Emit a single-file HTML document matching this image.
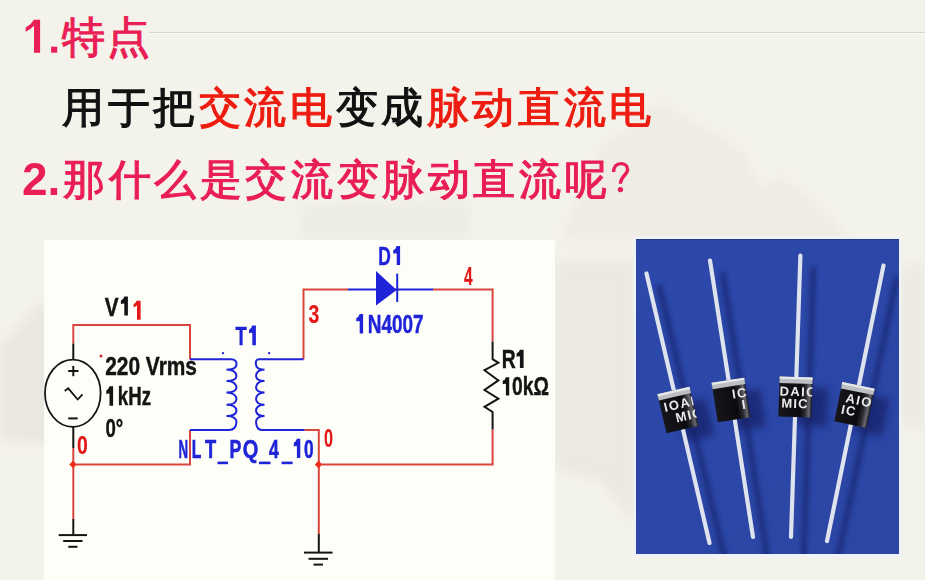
<!DOCTYPE html>
<html><head><meta charset="utf-8">
<style>
html,body{margin:0;padding:0;}
body{width:925px;height:580px;overflow:hidden;position:relative;background:#f4f3eb;font-family:"Liberation Sans",sans-serif;}
.bg{position:absolute;left:0;top:0;width:925px;height:580px;}
.t{position:absolute;white-space:nowrap;font-size:46px;line-height:46px;}
.pink{color:#e91e55;text-shadow:0 0 2px rgba(255,235,240,0.9);}
.red{color:#ee1c10;}
.blk{color:#111;}
.num{font-weight:bold;}
.cj{position:absolute;white-space:nowrap;font-size:42px;line-height:46px;letter-spacing:3.6px;-webkit-text-stroke:1.1px currentColor;}
#panel{position:absolute;left:44px;top:240px;width:511px;height:340px;background:#fefef9;}
#photo{position:absolute;left:636px;top:239px;width:263px;height:315px;background:#2c47ad;box-shadow:0 0 0 2px #eef3fb;}
svg{position:absolute;left:0;top:0;}
</style></head>
<body>
<svg class="bg" width="925" height="580" viewBox="0 0 925 580">
  <defs><filter id="bgb" x="-30%" y="-30%" width="160%" height="160%"><feGaussianBlur stdDeviation="6"/></filter></defs>
  <g filter="url(#bgb)" fill="#e2e0d8">
    <polygon points="0,345 44,300 60,320 60,445 0,440" opacity="0.6"/>
    <polygon points="555,260 636,260 636,525 600,480 555,470" opacity="0.5"/>
    <polygon points="899,270 925,260 925,430 899,425" opacity="0.45"/>
    <polygon points="560,240 600,150 660,102 743,150 760,190 780,175 840,225 850,240" opacity="0.35"/>
    <polygon points="300,205 470,200 470,240 300,240" opacity="0.3"/>
  </g>
  <line x1="150" y1="32.5" x2="925" y2="32.5" stroke="#d8d6cc" stroke-width="1"/>
  <line x1="150" y1="33.5" x2="925" y2="33.5" stroke="#fbfbf6" stroke-width="1"/>
</svg>

<svg width="70" height="70" viewBox="0 0 70 70" style="left:0;top:0;">
  <path d="M34,19.7 L40.1,19.7 L40.1,52.7 L34,52.7 L34,25.8 Q30.5,29.6 25.7,31.7 L25.7,27.6 Q31.2,24.6 34,19.7 Z" fill="#e91e55"/>
  <rect x="51.1" y="46.7" width="6.1" height="6" fill="#e91e55"/>
</svg>
<div class="cj pink" style="left:62px;top:14px;font-size:43px;letter-spacing:1.8px;">特点</div>
<div class="cj blk" style="left:62px;top:85px;">用于把<span class="red">交流电</span>变成<span class="red">脉动直流电</span></div>
<div class="t pink num" style="left:22px;top:156px;">2.</div>
<div class="cj pink" style="left:63px;top:157px;">那什么是交流变脉动直流呢</div>
<svg width="925" height="220" viewBox="0 0 925 220" style="left:0;top:0;"><path d="M613.6,172 C613.6,166.5 617,163.6 620.8,163.6 C624.8,163.6 627.6,166.2 627.6,169.6 C627.6,174.5 620.6,176.5 620.4,183.8" fill="none" stroke="#e91e55" stroke-width="3.4"/><circle cx="620.4" cy="189.6" r="2.7" fill="#e91e55"/></svg>

<div id="panel"></div>

<svg width="925" height="580" viewBox="0 0 925 580" style="font-family:'Liberation Sans',sans-serif;font-weight:bold;">
  <g stroke="#d8463e" stroke-width="2" fill="none">
    <polyline points="73.3,343.5 73.3,325 190,325 190,359.3"/>
    <polyline points="73.3,448 73.3,519"/>
    <polyline points="73.3,464.5 190,464.5 190,430"/>
    <polyline points="304.5,430 318.8,430 318.8,534"/>
    <polyline points="318.8,464.5 492.6,464.5 492.6,429.6"/>
    <polyline points="492.6,341.6 492.6,289.5 433,289.5"/>
    <polyline points="348,289.5 303.5,289.5 303.5,359.3"/>
  </g>
  <g stroke="#141414" stroke-width="2" fill="none">
    <line x1="73.3" y1="343.5" x2="73.3" y2="359.3"/>
    <line x1="73.3" y1="427" x2="73.3" y2="448"/>
    <line x1="73.3" y1="519" x2="73.3" y2="535"/>
    <line x1="58.7" y1="535.1" x2="87" y2="535.1"/>
    <line x1="63.2" y1="541" x2="82.5" y2="541"/>
    <line x1="68.3" y1="546.8" x2="77.5" y2="546.8"/>
    <line x1="318.8" y1="534" x2="318.8" y2="552.6"/>
    <line x1="304" y1="552.6" x2="332.6" y2="552.6"/>
    <line x1="308.5" y1="558.8" x2="328" y2="558.8"/>
    <line x1="313.5" y1="564.6" x2="323" y2="564.6"/>
    <polyline points="492.6,341.6 492.6,359.2 498.4,362.8 484.5,370.2 498.4,380.4 484.5,390 498.4,398.7 484.5,406.8 492.6,412 492.6,429.6"/>
    <ellipse cx="72.8" cy="393.2" rx="27.8" ry="33.6" stroke-width="1.8"/>
    <line x1="68.2" y1="371" x2="78.5" y2="371"/>
    <line x1="73.3" y1="365.9" x2="73.3" y2="376.2"/>
    <line x1="68.2" y1="418.4" x2="77.7" y2="418.4"/>
    <polyline points="64.7,391 68.2,388.3 77.7,399.5 82.5,394.3" stroke-width="1.8"/>
  </g>
  <g stroke="#1f24d8" stroke-width="2" fill="none">
    <line x1="190" y1="359.3" x2="231" y2="359.3"/>
    <line x1="190" y1="430" x2="229" y2="430"/>
    <line x1="259" y1="359.3" x2="303.5" y2="359.3"/>
    <line x1="262" y1="430" x2="304.5" y2="430"/>
    <path d="M231,359.3 Q237,359.5 236.5,364.7 Q236,370 226.5,369.6 Q236,370 236.5,376 Q236,381 226.5,381 Q236,381 236.5,387.6 Q236,392.5 226.5,392.5 Q236,393 236.5,399 Q236,404.8 226.5,404.8 Q236,405 236.5,410.6 Q236,416 226.5,416 Q236,416 236.5,422 Q236,430 229,430"/>
    <path d="M259,359.3 Q255,359.5 256,364.7 Q256.5,370 264.5,369.6 Q256.5,370 256,376 Q256.5,381 264.5,381 Q256.5,381 256,387.6 Q256.5,392.5 264.5,392.5 Q256.5,393 256,399 Q256.5,404.8 264.5,404.8 Q256.5,405 256,410.6 Q256.5,416 264.5,416 Q256.5,416 256,422 Q256.5,430 262,430"/>
    <line x1="348" y1="289.5" x2="433" y2="289.5"/>
    <line x1="397.2" y1="273.6" x2="397.2" y2="302"/>
  </g>
  <polygon points="376,271 396.7,290 376,305.5" fill="#1f24d8"/>
  <circle cx="223" cy="353.1" r="1.2" fill="#1f24d8"/>
  <circle cx="269.1" cy="353.1" r="1.2" fill="#1f24d8"/>
  <circle cx="101" cy="355.9" r="1.5" fill="#c03030"/>
  <polygon points="69.3,464.5 73.3,460.5 76.3,464.5 73.3,468.5" fill="#ee2a1a"/>
  <polygon points="314.8,464.5 318.8,460.5 321.8,464.5 318.8,468.5" fill="#ee2a1a"/>
  <g font-size="26" id="labels">
<text id="L_v" x="104.80" y="315.6" fill="#141414" stroke="#141414" stroke-width="0.45" textLength="13.80" lengthAdjust="spacingAndGlyphs">V</text>
<text id="L_220" x="105.20" y="374.5" fill="#141414" stroke="#141414" stroke-width="0.45" textLength="91.80" lengthAdjust="spacingAndGlyphs">220 Vrms</text>
<text id="L_khz" x="117.80" y="404.7" fill="#141414" stroke="#141414" stroke-width="0.45" textLength="33.20" lengthAdjust="spacingAndGlyphs">kHz</text>
<text id="L_deg" x="105.40" y="436.7" fill="#141414" stroke="#141414" stroke-width="0.45" textLength="17.80" lengthAdjust="spacingAndGlyphs">0°</text>
<text id="L_r0a" x="77.00" y="454.1" fill="#e41616" stroke="#e41616" stroke-width="0.15" textLength="10.80" lengthAdjust="spacingAndGlyphs">0</text>
<text id="L_t" x="235.60" y="345.1" fill="#1f24d8" stroke="#1f24d8" stroke-width="0.45" textLength="11.20" lengthAdjust="spacingAndGlyphs">T</text>
<text id="L_r0b" x="324.00" y="447" fill="#e41616" stroke="#e41616" stroke-width="0.15" textLength="9.00" lengthAdjust="spacingAndGlyphs">0</text>
<text id="L_r3" x="308.40" y="322.9" fill="#e41616" stroke="#e41616" stroke-width="0.15" textLength="10.80" lengthAdjust="spacingAndGlyphs">3</text>
<text id="L_d" x="378.20" y="265" fill="#1f24d8" stroke="#1f24d8" stroke-width="0.45" textLength="12.60" lengthAdjust="spacingAndGlyphs">D</text>
<text id="L_n4007" x="367.80" y="333.1" fill="#1f24d8" stroke="#1f24d8" stroke-width="0.45" textLength="55.80" lengthAdjust="spacingAndGlyphs">N4007</text>
<text id="L_r4" x="464.00" y="284.5" fill="#e41616" stroke="#e41616" stroke-width="0.15" textLength="8.60" lengthAdjust="spacingAndGlyphs">4</text>
<text id="L_r" x="501.80" y="368" fill="#141414" stroke="#141414" stroke-width="0.45" textLength="14.00" lengthAdjust="spacingAndGlyphs">R</text>
<text id="L_k0" x="512.00" y="395" fill="#141414" stroke="#141414" stroke-width="0.45" textLength="37.00" lengthAdjust="spacingAndGlyphs">0kΩ</text>
<text id="L_nN" x="178.60" y="458.2" fill="#1f24d8" stroke="#1f24d8" stroke-width="0.6" textLength="9.60" lengthAdjust="spacingAndGlyphs">N</text>
<text id="L_nL" x="191.80" y="458.2" fill="#1f24d8" stroke="#1f24d8" stroke-width="0.6" textLength="9.60" lengthAdjust="spacingAndGlyphs">L</text>
<text id="L_nT" x="205.00" y="458.2" fill="#1f24d8" stroke="#1f24d8" stroke-width="0.6" textLength="11.20" lengthAdjust="spacingAndGlyphs">T</text>
<text id="L_nP" x="229.60" y="458.2" fill="#1f24d8" stroke="#1f24d8" stroke-width="0.6" textLength="11.80" lengthAdjust="spacingAndGlyphs">P</text>
<text id="L_nQ" x="242.80" y="458.2" fill="#1f24d8" stroke="#1f24d8" stroke-width="0.6" textLength="15.60" lengthAdjust="spacingAndGlyphs">Q</text>
<text id="L_n4" x="269.00" y="458.2" fill="#1f24d8" stroke="#1f24d8" stroke-width="0.6" textLength="9.80" lengthAdjust="spacingAndGlyphs">4</text>
<text id="L_n0" x="304.00" y="458.2" fill="#1f24d8" stroke="#1f24d8" stroke-width="0.6" textLength="9.60" lengthAdjust="spacingAndGlyphs">0</text>
<path d="M124.3,296.4 L127.9,296.4 L127.9,315.5 L124.3,315.5 L124.3,303.7 Q123.1,303.3 120.9,304.0 L120.9,300.5 Q123.4,299.6 124.3,296.4 Z" fill="#141414"/>
<path d="M252.3,325.6 L255.9,325.6 L255.9,345.2 L252.3,345.2 L252.3,333.0 Q251.1,332.6 249.1,333.3 L249.1,329.8 Q251.4,328.8 252.3,325.6 Z" fill="#1f24d8"/>
<path d="M396.7,245.9 L400.1,245.9 L400.1,264.9 L396.7,264.9 L396.7,253.5 Q395.5,253.1 393.3,253.8 L393.3,250.3 Q395.8,249.1 396.7,245.9 Z" fill="#1f24d8"/>
<path d="M519.9,349.7 L523.6,349.7 L523.6,367.9 L519.9,367.9 L519.9,356.4 Q518.7,356.0 516.6,356.7 L516.6,353.2 Q519.0,352.9 519.9,349.7 Z" fill="#141414"/>
<path d="M505.9,377.2 L509.2,377.2 L509.2,395.4 L505.9,395.4 L505.9,383.9 Q504.7,383.5 502.7,384.2 L502.7,380.7 Q505.0,380.4 505.9,377.2 Z" fill="#141414"/>
<path d="M109.5,386.3 L113.1,386.3 L113.1,405.7 L109.5,405.7 L109.5,393.7 Q108.3,393.3 106.3,394.0 L106.3,390.5 Q108.6,389.5 109.5,386.3 Z" fill="#141414"/>
<path d="M359.7,314.1 L363.1,314.1 L363.1,333.4 L359.7,333.4 L359.7,321.2 Q358.5,320.8 356.3,321.5 L356.3,318.0 Q358.8,317.3 359.7,314.1 Z" fill="#1f24d8"/>
<path d="M296.9,438.8 L300.3,438.8 L300.3,457.9 L296.9,457.9 L296.9,446.2 Q295.7,445.8 293.8,446.5 L293.8,443.0 Q296.0,442.0 296.9,438.8 Z" fill="#1f24d8"/>
<path id="l_r1a" d="M136.6,300.7 L140.6,300.7 L140.6,319.7 L137,319.7 L137,305.3 Q135.5,306.6 133.6,307.4 L133.6,304.2 Q135.9,302.8 136.6,300.7 Z" fill="#e41616"/>
<g fill="#1f24d8"><rect x="217.5" y="461.6" width="10.5" height="2.6"/><rect x="259" y="461.6" width="11.5" height="2.6"/><rect x="281.6" y="461.6" width="11" height="2.6"/></g>
</g>
</svg>
<svg width="925" height="580" viewBox="0 0 925 580" style="font-family:'Liberation Sans',sans-serif;font-weight:bold;">
<defs>
 <filter id="blr" x="-50%" y="-20%" width="200%" height="140%"><feGaussianBlur stdDeviation="2"/></filter>
 <filter id="blr2" x="-50%" y="-50%" width="200%" height="200%"><feGaussianBlur stdDeviation="3.5"/></filter>
 <linearGradient id="pbg" x1="0" y1="0" x2="1" y2="1"><stop offset="0" stop-color="#2c48ab"/><stop offset="1" stop-color="#2b46a3"/></linearGradient>
 <linearGradient id="body" x1="0" y1="0" x2="1" y2="0"><stop offset="0" stop-color="#17171b"/><stop offset="0.65" stop-color="#0b0b0f"/><stop offset="0.8" stop-color="#2a2b30"/><stop offset="0.92" stop-color="#6a6b72"/><stop offset="1" stop-color="#15151a"/></linearGradient>
 <clipPath id="bclip"><rect x="-16.5" y="-20" width="33" height="40"/></clipPath>
 <clipPath id="pclip"><rect x="636" y="239" width="263" height="315"/></clipPath>
</defs>
<rect x="633.5" y="236.5" width="268" height="320" fill="#eef2fa"/>
<rect x="636" y="239" width="263" height="315" fill="url(#pbg)"/>
<line x1="636" y1="239.5" x2="899" y2="239.5" stroke="#26398c" stroke-width="1"/>
<g clip-path="url(#pclip)">
<line x1="659.5" y1="287.5" x2="725.5" y2="562.0" stroke="#1b2a78" stroke-width="6" stroke-linecap="round" opacity="0.8" filter="url(#blr)"/>
<g transform="translate(695.0 419.0) rotate(-13.2)"><rect x="-15" y="-18" width="30" height="38" fill="#17236a" opacity="0.75" filter="url(#blr2)"/></g>
<line x1="723.0" y1="274.5" x2="768.0" y2="562.0" stroke="#1b2a78" stroke-width="6" stroke-linecap="round" opacity="0.8" filter="url(#blr)"/>
<g transform="translate(748.0 409.0) rotate(-9)"><rect x="-15" y="-18" width="30" height="38" fill="#17236a" opacity="0.75" filter="url(#blr2)"/></g>
<line x1="813.4" y1="269.5" x2="803.5" y2="562.0" stroke="#1b2a78" stroke-width="6" stroke-linecap="round" opacity="0.8" filter="url(#blr)"/>
<g transform="translate(812.5 406.0) rotate(1.9)"><rect x="-15" y="-18" width="30" height="38" fill="#17236a" opacity="0.75" filter="url(#blr2)"/></g>
<line x1="896.5" y1="279.5" x2="837.0" y2="562.0" stroke="#1b2a78" stroke-width="6" stroke-linecap="round" opacity="0.8" filter="url(#blr)"/>
<g transform="translate(871.5 414.0) rotate(11.5)"><rect x="-15" y="-18" width="30" height="38" fill="#17236a" opacity="0.75" filter="url(#blr2)"/></g>
<line x1="646.5" y1="273.5" x2="709.5" y2="543.0" stroke="#dfe3ee" stroke-width="4.2" stroke-linecap="round"/>
<line x1="710.0" y1="260.5" x2="753.0" y2="537.0" stroke="#dfe3ee" stroke-width="4.2" stroke-linecap="round"/>
<line x1="800.4" y1="255.5" x2="791.0" y2="537.0" stroke="#dfe3ee" stroke-width="4.2" stroke-linecap="round"/>
<line x1="883.5" y1="265.5" x2="827.0" y2="541.0" stroke="#dfe3ee" stroke-width="4.2" stroke-linecap="round"/>
<g transform="translate(678.0 410.0) rotate(-13.2)">
  <rect x="-16.5" y="-20" width="33" height="40" fill="url(#body)"/>
  <rect x="-16.5" y="-20" width="33" height="6.5" fill="#bcbec4"/>
  <rect x="-16.5" y="-20" width="33" height="2.2" fill="#e6e8ec"/>
  <g clip-path="url(#bclip)"><text x="-13" y="-1" font-size="13" letter-spacing="1.4" fill="#ececec">IOAI</text>
  <text x="-4" y="12" font-size="13" letter-spacing="1.2" fill="#ececec">MIC</text></g>
</g>
<g transform="translate(731.0 400.0) rotate(-9)">
  <rect x="-16.5" y="-20" width="33" height="40" fill="url(#body)"/>
  <rect x="-16.5" y="-20" width="33" height="6.5" fill="#bcbec4"/>
  <rect x="-16.5" y="-20" width="33" height="2.2" fill="#e6e8ec"/>
  <g clip-path="url(#bclip)"><text x="2" y="-1" font-size="13" letter-spacing="1.4" fill="#ececec">IC</text>
  <text x="10" y="11" font-size="13" letter-spacing="1.2" fill="#ececec">I</text></g>
</g>
<g transform="translate(795.5 397.0) rotate(1.9)">
  <rect x="-16.5" y="-20" width="33" height="40" fill="url(#body)"/>
  <rect x="-16.5" y="-20" width="33" height="6.5" fill="#bcbec4"/>
  <rect x="-16.5" y="-20" width="33" height="2.2" fill="#e6e8ec"/>
  <g clip-path="url(#bclip)"><text x="-16" y="-1" font-size="13" letter-spacing="1.4" fill="#ececec">DAIO</text>
  <text x="-14" y="11" font-size="13" letter-spacing="1.2" fill="#ececec">MIC</text></g>
</g>
<g transform="translate(854.5 405.0) rotate(11.5)">
  <rect x="-16.5" y="-20" width="33" height="40" fill="url(#body)"/>
  <rect x="-16.5" y="-20" width="33" height="6.5" fill="#bcbec4"/>
  <rect x="-16.5" y="-20" width="33" height="2.2" fill="#e6e8ec"/>
  <g clip-path="url(#bclip)"><text x="-10" y="-1" font-size="13" letter-spacing="1.4" fill="#ececec">AIO</text>
  <text x="-12" y="11" font-size="13" letter-spacing="1.2" fill="#ececec">IC</text></g>
</g>
</g></svg>
</body></html>
